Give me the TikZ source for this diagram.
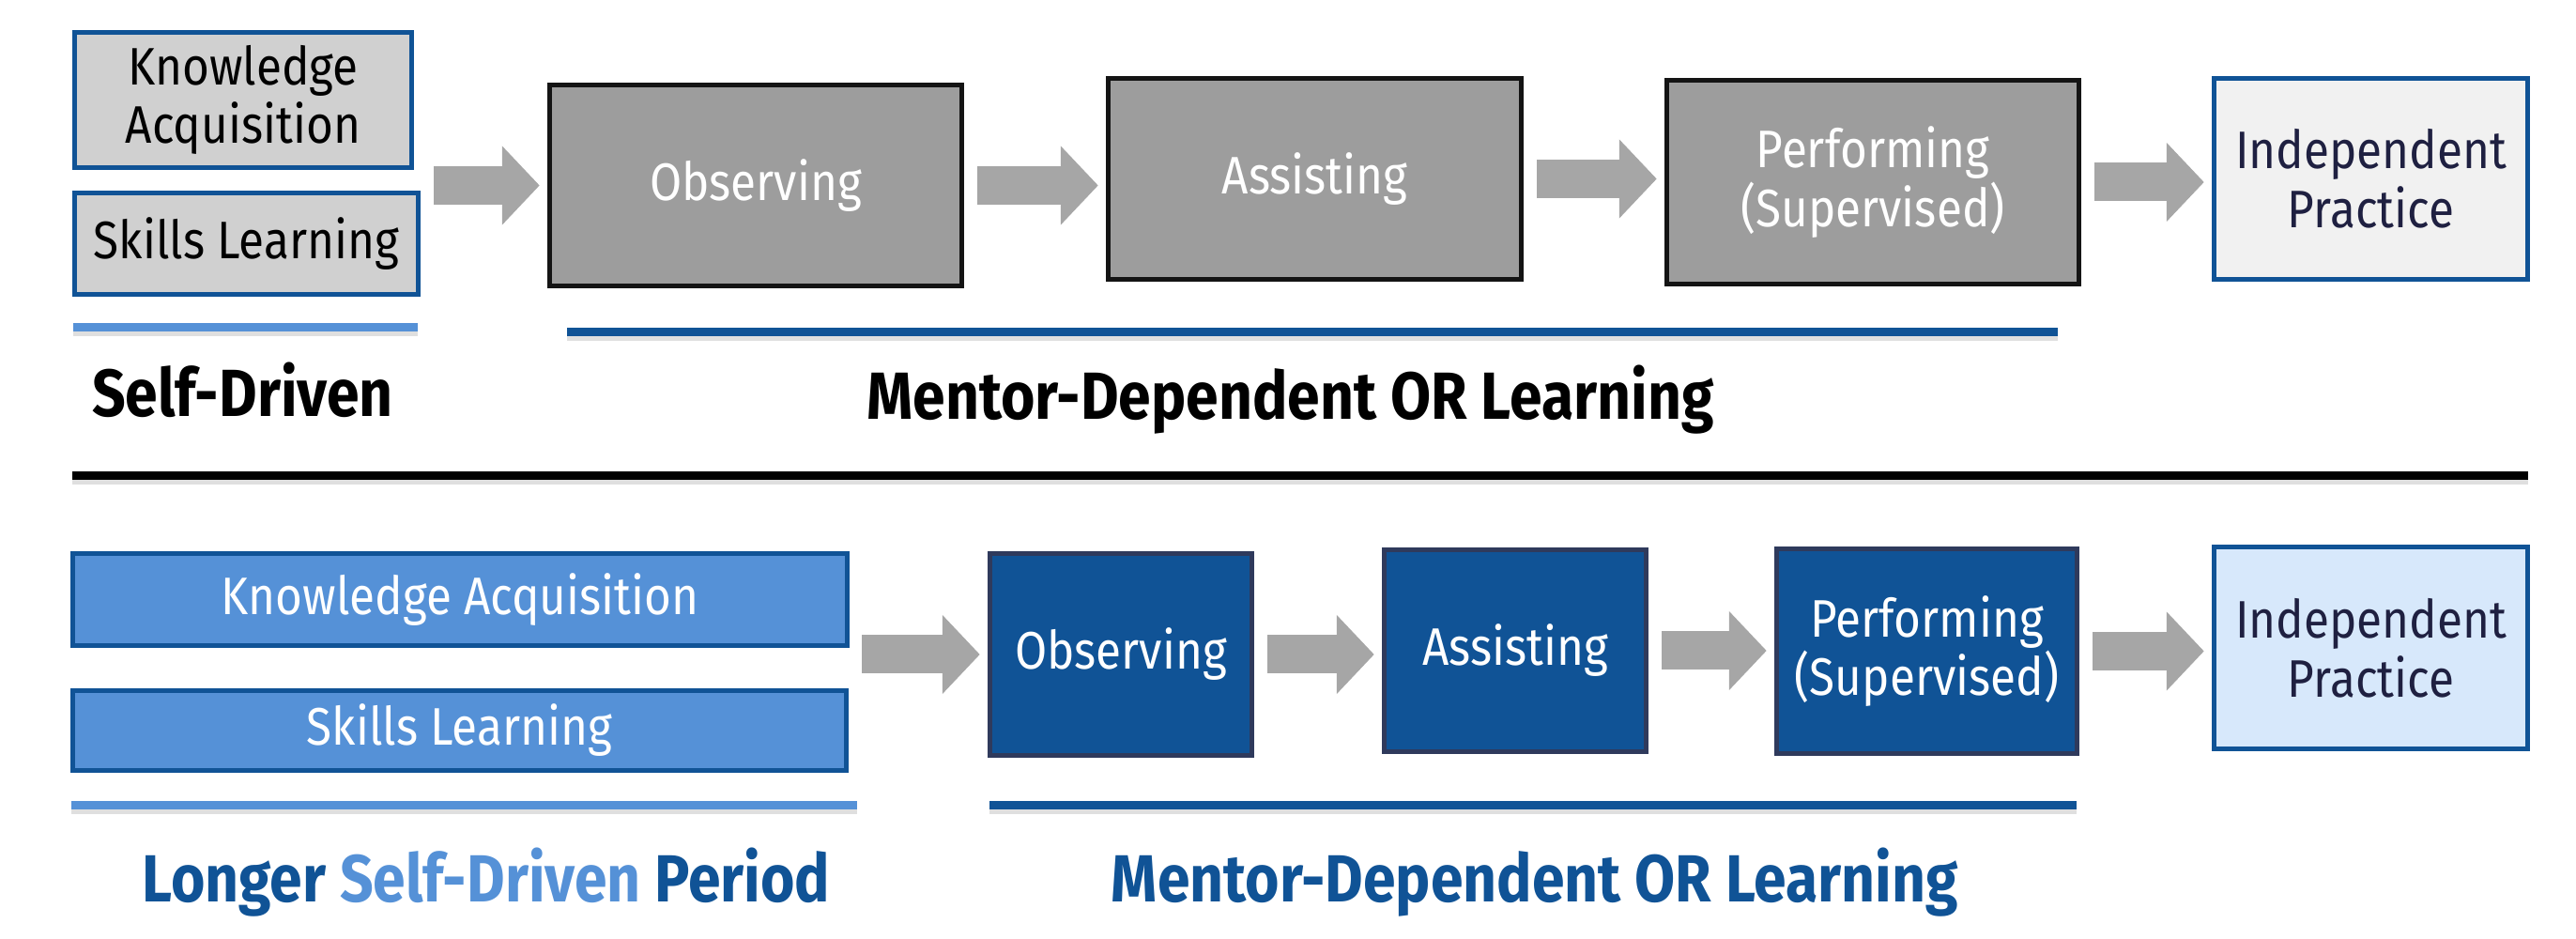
\documentclass[tikz,border=0pt]{standalone}
\usepackage{fontspec}
\setmainfont{Fira Sans}[FakeStretch=0.88]
\usepackage{tikz}
\usetikzlibrary{arrows.meta}
\usetikzlibrary{shadows}
\definecolor{stepgrey}{HTML}{9D9D9D}
\definecolor{lightgrey}{HTML}{D0D0D0}
\definecolor{indgrey}{HTML}{F1F1F1}
\definecolor{darkblue}{HTML}{105396}
\definecolor{lightblue}{HTML}{5591D7}
\definecolor{indblue}{HTML}{D7E8FB}
\definecolor{stageedge}{HTML}{2F3A5C}
\definecolor{arrowgrey}{HTML}{A6A6A6}
\definecolor{navytext}{HTML}{1F2041}

\begin{document}
\begin{tikzpicture}
	\tikzstyle{box}=[rectangle, line width=0.055cm, inner sep=0pt, align=center, font=\fontsize{16}{17.8}\selectfont]
	\tikzstyle{self box}=[box, fill=lightgrey, draw=darkblue, text=black]
	\tikzstyle{stage}=[box, fill=stepgrey, draw=black!92, text=white]
	\tikzstyle{indep}=[box, fill=indgrey, draw=darkblue, text=navytext]
	\tikzstyle{self long}=[box, fill=lightblue, draw=darkblue, text=white]
	\tikzstyle{stage dark}=[box, fill=darkblue, draw=stageedge, text=white]
	\tikzstyle{indep light}=[indep, fill=indblue]
	\tikzstyle{flow}=[draw=arrowgrey, line width=0.41cm, -{Triangle[length=0.40cm,width=0.82cm]}, shorten <=0.14cm, shorten >=0.08cm]
	\tikzstyle{bar}=[drop shadow={shadow xshift=0cm, shadow yshift=-0.05cm, opacity=0.25}]
	\tikzstyle{title}=[anchor=base, font=\fontsize{20.2}{24}\selectfont\bfseries]

	\useasboundingbox (0,0) rectangle (27.44,-10);

	% Draw the upper row
	\node[self box, minimum width=3.59cm, minimum height=1.44cm] (know1) at (2.59,-1.065) {Knowledge\\Acquisition};
	\node[self box, minimum width=3.66cm, minimum height=1.08cm] (skill1) at (2.625,-2.595) {Skills Learning};
	\node[stage, minimum width=4.39cm, minimum height=2.14cm] (obs1) at (8.05,-1.975) {Observing};
	\node[stage, minimum width=4.40cm, minimum height=2.14cm] (assist1) at (14.005,-1.905) {Assisting};
	\node[stage, minimum width=4.39cm, minimum height=2.17cm] (perform1) at (19.95,-1.94) {Performing\\(Supervised)};
	\node[indep, minimum width=3.34cm, minimum height=2.14cm] (indep1) at (25.255,-1.905) {Independent\\Practice};

	% Draw the upper arrows
	\draw[flow] (obs1.west -| skill1.east) -- (obs1.west);
	\draw[flow] (obs1.east) -- (obs1.east -| assist1.west);
	\draw[flow] (assist1.east) -- (assist1.east -| perform1.west);
	\draw[flow] (perform1.east) -- (perform1.east -| indep1.west);

	% Annotate the upper row
	\fill[lightblue, bar] (0.78,-3.44) rectangle (4.45,-3.53);
	\fill[darkblue, bar] (6.04,-3.49) rectangle (21.92,-3.58);
	\node[title] (self1) at (2.585,-4.44) {Self-Driven};
	\node[title] (mentor1) at (13.745,-4.47) {Mentor-Dependent OR Learning};

	% Separator
	\fill[black, bar] (0.77,-5.02) rectangle (26.93,-5.11);

	% Draw the lower row
	\node[self long, minimum width=8.25cm, minimum height=0.98cm] (know2) at (4.90,-6.385) {Knowledge Acquisition};
	\node[self long, minimum width=8.24cm, minimum height=0.85cm] (skill2) at (4.895,-7.78) {Skills Learning};
	\node[stage dark, minimum width=2.79cm, minimum height=2.15cm] (obs2) at (11.94,-6.97) {Observing};
	\node[stage dark, minimum width=2.79cm, minimum height=2.15cm] (assist2) at (16.14,-6.93) {Assisting};
	\node[stage dark, minimum width=3.20cm, minimum height=2.18cm] (perform2) at (20.525,-6.935) {Performing\\(Supervised)};
	\node[indep light, minimum width=3.34cm, minimum height=2.15cm] (indep2) at (25.255,-6.90) {Independent\\Practice};

	% Draw the lower arrows
	\draw[flow] (obs2.west -| skill2.east) -- (obs2.west);
	\draw[flow] (obs2.east) -- (obs2.east -| assist2.west);
	\draw[flow] (assist2.east) -- (assist2.east -| perform2.west);
	\draw[flow] (perform2.east) -- (perform2.east -| indep2.west);

	% Annotate the lower row
	\fill[lightblue, bar] (0.76,-8.53) rectangle (9.13,-8.62);
	\fill[darkblue, bar] (10.54,-8.53) rectangle (22.12,-8.62);
	\node[title, text=darkblue] (self2) at (5.18,-9.61) {Longer \textcolor{lightblue}{Self-Driven} Period};
	\node[title, text=darkblue] (mentor2) at (16.35,-9.61) {Mentor-Dependent OR Learning};
\end{tikzpicture}
\end{document}
